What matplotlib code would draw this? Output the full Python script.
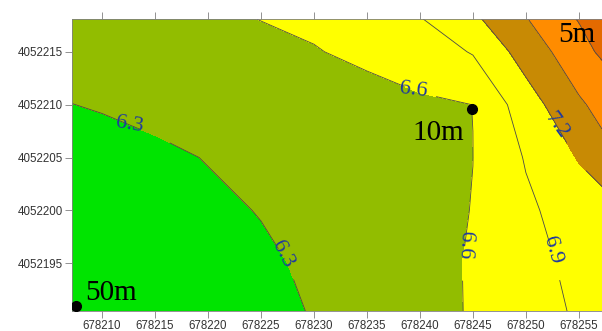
# contour map of the three wells (50m, 10m, 5m)
import numpy as np
import matplotlib
matplotlib.use("Agg")
import matplotlib.pyplot as plt

# grid nodes (easting / northing) and values
grid_x = [678205, 678210, 678215, 678220, 678225, 678230, 678235, 678240, 678245, 678250, 678255, 678260]
grid_y = [4052190, 4052195, 4052200, 4052205, 4052210, 4052215, 4052220]
z_rows = [
    [5.95, 6.00, 6.08, 6.15, 6.23, 6.31, 6.41, 6.51, 6.62, 6.78, 6.93, 7.05],
    [6.02, 6.07, 6.13, 6.19, 6.26, 6.34, 6.43, 6.52, 6.62, 6.81, 6.97, 7.09],
    [6.08, 6.13, 6.19, 6.25, 6.31, 6.38, 6.45, 6.53, 6.605, 6.85, 7.04, 7.22],
    [6.15, 6.20, 6.25, 6.31, 6.37, 6.43, 6.48, 6.54, 6.599, 6.92, 7.22, 7.58],
    [6.28, 6.32, 6.37, 6.41, 6.45, 6.49, 6.53, 6.56, 6.601, 7.06, 7.46, 7.74],
    [6.40, 6.44, 6.48, 6.51, 6.55, 6.59, 6.64, 6.74, 6.92, 7.33, 7.68, 8.08],
    [6.50, 6.53, 6.565, 6.595, 6.636, 6.66, 6.78, 6.98, 7.26, 7.58, 7.90, 8.60],
]

levels = [5.9, 6.3, 6.6, 6.9, 7.2, 7.5, 7.8, 8.1, 8.7]
fill_colors = ["#00e400", "#92bd00", "#ffff00", "#ffff00", "#c88a04", "#ff8c00", "#e46a00", "#ff0000"]
line_levels = [6.3, 6.6, 6.9, 7.2, 7.5, 7.8, 8.1]
labeled_levels = [6.3, 6.6, 6.9, 7.2]
label_pos = [(678212.6, 4052208.1), (678227.7, 4052196.3), (678239.5, 4052211.6),
             (678244.3, 4052196.7), (678252.7, 4052196.3), (678252.7, 4052207.9)]

well_x = [678207.55, 678244.9, 678258.0]
well_y = [4052190.96, 4052209.6, 4052218.6]
well_names = ["50m", "10m", "5m"]
name_offsets = [(6.5, 4.3), (-42.5, -22.3), (-38.0, -20.5)]

xticks = [678210, 678215, 678220, 678225, 678230, 678235, 678240, 678245, 678250, 678255]
yticks = [4052195, 4052200, 4052205, 4052210, 4052215]

plt.rcParams["font.family"] = "Liberation Serif"

X, Y = np.meshgrid(grid_x, grid_y)
Z = np.array(z_rows)

fig = plt.figure(figsize=(6.02, 3.31), dpi=100)
ax = fig.add_axes([0.1196, 0.0613, 0.930, 0.8813])

ax.contourf(X, Y, Z, levels=levels, colors=fill_colors)
cs = ax.contour(X, Y, Z, levels=line_levels, colors="#4a4a4a", linewidths=0.6)
ax.clabel(cs, levels=labeled_levels, manual=label_pos, fmt="%.1f", fontsize=16,
          colors="#1f3a9e", inline=True, inline_spacing=2)
for t in cs.labelTexts:
    t.set_fontfamily("Liberation Serif")
    r = t.get_rotation()
    if 60 < r < 120:  # vertical labels read downward like the original
        t.set_rotation(r + 180)
    elif r > 330:  # flat-ish labels sit almost level in the original
        t.set_rotation(r + (360 - r) * 0.6)

ax.plot(well_x, well_y, "o", color="black", markersize=7, clip_on=True, zorder=5)
for wx, wy, name, off in zip(well_x, well_y, well_names, name_offsets):
    ax.annotate(name, (wx, wy), xytext=off, textcoords="offset points",
                fontsize=21, color="black", ha="left", va="baseline",
                fontfamily="Liberation Serif", annotation_clip=False, zorder=6)

ax.set_xlim(678207.17, 678260.0)
ax.set_ylim(4052190.52, 4052218.1)
ax.set_xticks(xticks)
ax.set_yticks(yticks)
ax.ticklabel_format(useOffset=False, style="plain")
ax.tick_params(axis="both", direction="out", length=5, width=0.6, color="#808080",
               labelsize=8.3, labelcolor="#333333", pad=1.5, labelfontfamily="Liberation Sans")
ax.tick_params(axis="x", top=True)
for s in ax.spines.values():
    s.set_color("#808080")
    s.set_linewidth(0.6)

fig.savefig("out.png", dpi=100)
